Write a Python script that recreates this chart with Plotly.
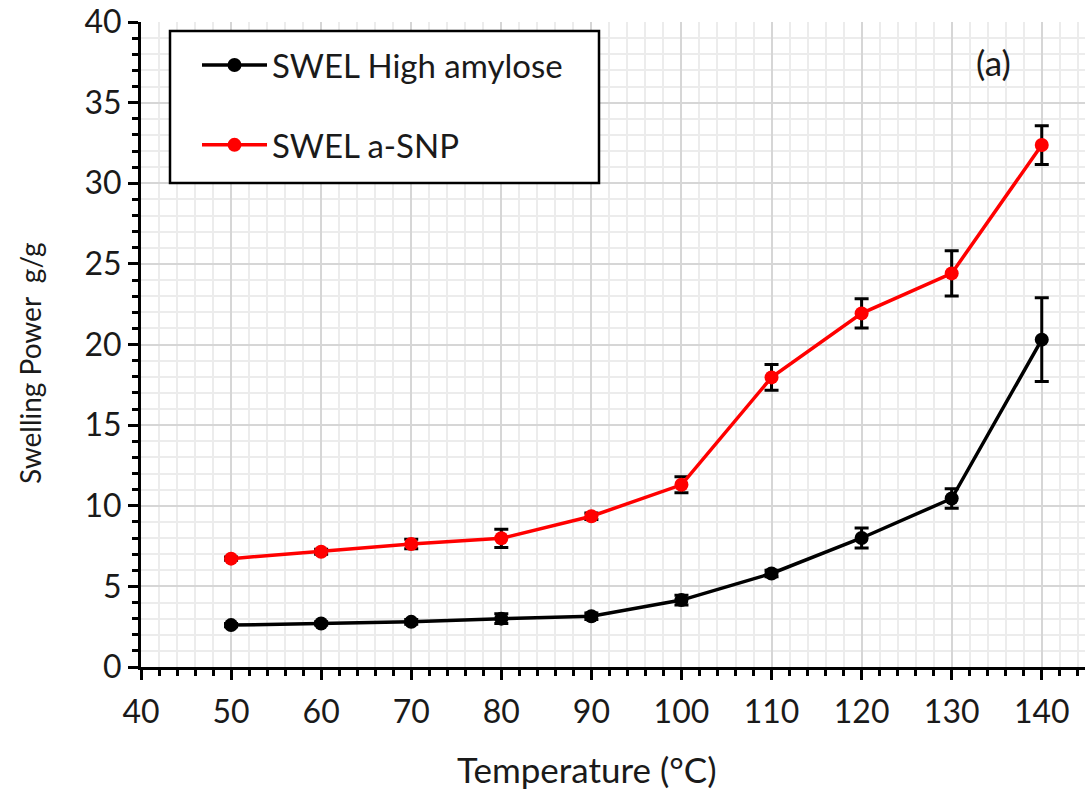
import plotly.graph_objects as go

# Swelling power of high-amylose starch and its nanoparticles vs temperature
temperature = [50, 60, 70, 80, 90, 100, 110, 120, 130, 140]
swel_high_amylose = [2.6, 2.7, 2.8, 3.0, 3.15, 4.15, 5.8, 8.0, 10.45, 20.3]
swel_high_amylose_err = [0.1, 0.1, 0.15, 0.3, 0.2, 0.3, 0.2, 0.62, 0.6, 2.6]
swel_a_snp = [6.72, 7.15, 7.63, 7.98, 9.35, 11.3, 17.96, 21.93, 24.41, 32.37]
swel_a_snp_err = [0.1, 0.15, 0.3, 0.57, 0.2, 0.5, 0.8, 0.9, 1.4, 1.2]

x_ticks = list(range(40, 141, 10))
y_ticks = list(range(0, 41, 5))

FONT = "Lato"
TEXT = "#1a1a1a"

W, H = 1087, 791
L, R, T, B = 141, 2, 22, 124

fig = go.Figure()

fig.add_trace(go.Scatter(
    x=temperature, y=swel_high_amylose, name="SWEL High amylose",
    mode="lines+markers", legendgroup="a",
    line=dict(color="black", width=3.5),
    marker=dict(color="black", size=14),
    error_y=dict(type="data", array=swel_high_amylose_err, visible=True,
                 color="black", thickness=3, width=7),
))
fig.add_trace(go.Scatter(
    x=temperature, y=swel_a_snp, name="SWEL a-SNP",
    mode="lines+markers", legendgroup="b",
    line=dict(color="#ff0000", width=3.5),
    marker=dict(color="#ff0000", size=14),
    error_y=dict(type="data", array=swel_a_snp_err, visible=True,
                 color="black", thickness=3, width=7),
))

pw = W - L - R
ph = H - T - B


def px_x(p):
    return (p - L) / pw


def px_y(p):
    return (H - B - p) / ph


# legend frame
fig.add_shape(type="rect", xref="paper", yref="paper",
              x0=px_x(170), x1=px_x(599), y0=px_y(183), y1=px_y(31),
              line=dict(color="black", width=2.5), fillcolor="white",
              layer="above")

axis_common = dict(
    ticks="outside", ticklen=10, tickwidth=3, tickcolor="black",
    showline=True, linecolor="black", linewidth=3,
    showgrid=True, gridcolor="#d6d6d6", gridwidth=2, zeroline=False,
    tickfont=dict(family=FONT, size=32, color=TEXT),
)

fig.update_layout(
    width=W, height=H,
    margin=dict(l=L, r=R, t=T, b=B),
    paper_bgcolor="white", plot_bgcolor="white",
    font=dict(family=FONT, size=32, color=TEXT),
    showlegend=True,
    legend=dict(x=px_x(197), y=px_y(37), xanchor="left", yanchor="top",
                bgcolor="rgba(0,0,0,0)", borderwidth=0,
                font=dict(family=FONT, size=33, color=TEXT),
                itemwidth=65, tracegroupgap=34, traceorder="grouped"),
    xaxis=dict(
        range=[40, 144.8], tickvals=x_ticks, ticklabelstandoff=5,
        minor=dict(dtick=2, tick0=40, ticks="outside", ticklen=6, tickwidth=3,
                   tickcolor="black", showgrid=True, gridcolor="#ececec",
                   gridwidth=2),
        **axis_common,
    ),
    yaxis=dict(
        range=[0, 40], tickvals=y_ticks,
        minor=dict(dtick=1, tick0=0, ticks="outside", ticklen=6, tickwidth=3,
                   tickcolor="black", showgrid=True, gridcolor="#ececec",
                   gridwidth=2),
        **axis_common,
    ),
    annotations=[
        dict(text="Temperature (°C)", xref="paper", yref="paper",
             x=px_x(587), y=px_y(769), xanchor="center", yanchor="middle",
             showarrow=False, font=dict(family=FONT, size=35, color=TEXT)),
        dict(text="Swelling Power  g/g", xref="paper", yref="paper",
             x=px_x(30), y=px_y(364), xanchor="center", yanchor="middle",
             showarrow=False, textangle=-90,
             font=dict(family=FONT, size=28, color=TEXT)),
        dict(text="(a)", xref="paper", yref="paper",
             x=px_x(993), y=px_y(62), xanchor="center", yanchor="middle",
             showarrow=False, font=dict(family=FONT, size=35, color=TEXT)),
    ],
)

fig.write_html("out.html")
